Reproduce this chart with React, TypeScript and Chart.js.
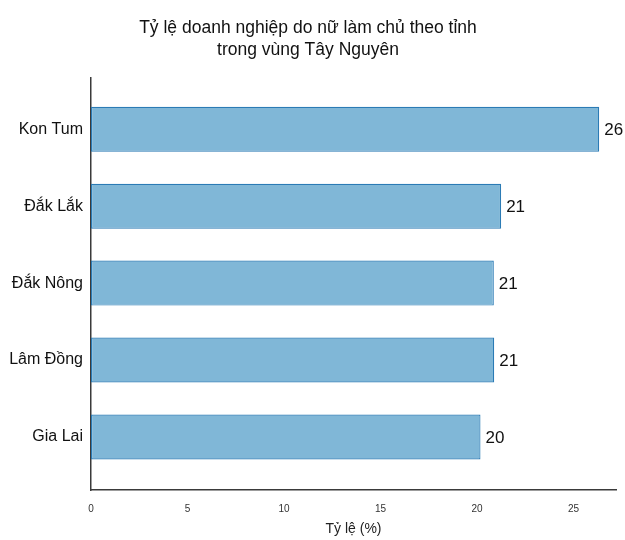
import React, { useEffect, useRef } from "react";
import { Chart, registerables } from "chart.js";

Chart.register(...registerables);

// Provinces of the Central Highlands, top to bottom
const provinces: string[] = ["Kon Tum", "Đắk Lắk", "Đắk Nông", "Lâm Đồng", "Gia Lai"];
// Share of enterprises owned by women (%)
const shares: number[] = [26.33, 21.25, 20.87, 20.89, 20.18];
// X axis tick values
const xTicks: number[] = [0, 5, 10, 15, 20, 25];

const titleLines: string[] = ["Tỷ lệ doanh nghiệp do nữ làm chủ theo tỉnh", "trong vùng Tây Nguyên"];
const xTitle = "Tỷ lệ (%)";

const FONT = "'Liberation Sans', Arial, sans-serif";

// Writes the rounded value just past the end of each bar
const valueLabels = {
  id: "valueLabels",
  afterDatasetsDraw(chart: any) {
    const ctx = chart.ctx;
    const meta = chart.getDatasetMeta(0);
    ctx.save();
    ctx.font = `17px ${FONT}`;
    ctx.fillStyle = "#111111";
    ctx.textAlign = "left";
    ctx.textBaseline = "middle";
    meta.data.forEach((bar: any, i: number) => {
      const v = chart.data.datasets[0].data[i].x;
      ctx.fillText(String(Math.round(v)), bar.x + 5, bar.y + 1);
    });
    ctx.restore();
  },
};

export default function App() {
  const canvasRef = useRef<HTMLCanvasElement | null>(null);

  useEffect(() => {
    document.body.style.margin = "0";
    const canvas = canvasRef.current;
    if (!canvas) return;
    const chart = new Chart(canvas, {
      type: "bar",
      data: {
        datasets: [
          {
            data: shares.map((v, i) => ({ x: v, y: i })),
            backgroundColor: "#80b7d7",
            borderColor: "#2b7bb5",
            borderWidth: 1.2,
            borderSkipped: false,
            categoryPercentage: 1,
            barPercentage: 0.585,
          },
        ],
      },
      options: {
        indexAxis: "y",
        animation: false,
        responsive: false,
        maintainAspectRatio: false,
        layout: { padding: { left: 0, right: 9, top: 0, bottom: 0 } },
        plugins: {
          legend: { display: false },
          tooltip: { enabled: false },
          title: {
            display: true,
            text: titleLines,
            color: "#111111",
            font: { family: FONT, size: 17.5, weight: "normal", lineHeight: 1.25 },
            padding: { top: 17, bottom: 17 },
          },
        },
        scales: {
          x: {
            type: "linear",
            min: 0,
            max: 27.2,
            afterBuildTicks(scale: any) {
              scale.ticks = xTicks.map((v) => ({ value: v }));
            },
            grid: { display: false, drawTicks: false, tickLength: 0 },
            border: { display: true, color: "#3a3a3a", width: 1.5 },
            ticks: {
              color: "#333333",
              font: { family: FONT, size: 10 },
              padding: 13,
              maxRotation: 0,
            },
            title: {
              display: true,
              text: xTitle,
              color: "#222222",
              font: { family: FONT, size: 14 },
              padding: { top: 2, bottom: 2 },
            },
            afterFit(scale: any) {
              scale.height = 50;
            },
          },
          y: {
            type: "linear",
            offset: false,
            reverse: true,
            min: -0.67,
            max: 4.69,
            afterBuildTicks(scale: any) {
              scale.ticks = provinces.map((_, i) => ({ value: i }));
            },
            grid: { display: false, drawTicks: false, tickLength: 0, offset: false },
            border: { display: true, color: "#3a3a3a", width: 1.5 },
            ticks: {
              color: "#111111",
              font: { family: FONT, size: 16 },
              padding: 8,
              autoSkip: false,
              callback: (v: any) => provinces[v as number] ?? "",
            },
            afterFit(scale: any) {
              scale.width = 91;
            },
          },
        },
      },
      plugins: [valueLabels],
    });
    return () => chart.destroy();
  }, []);

  return (
    <div style={{ width: 625, height: 540, background: "#ffffff" }}>
      <canvas ref={canvasRef} width={625} height={540} style={{ display: "block" }} />
    </div>
  );
}
